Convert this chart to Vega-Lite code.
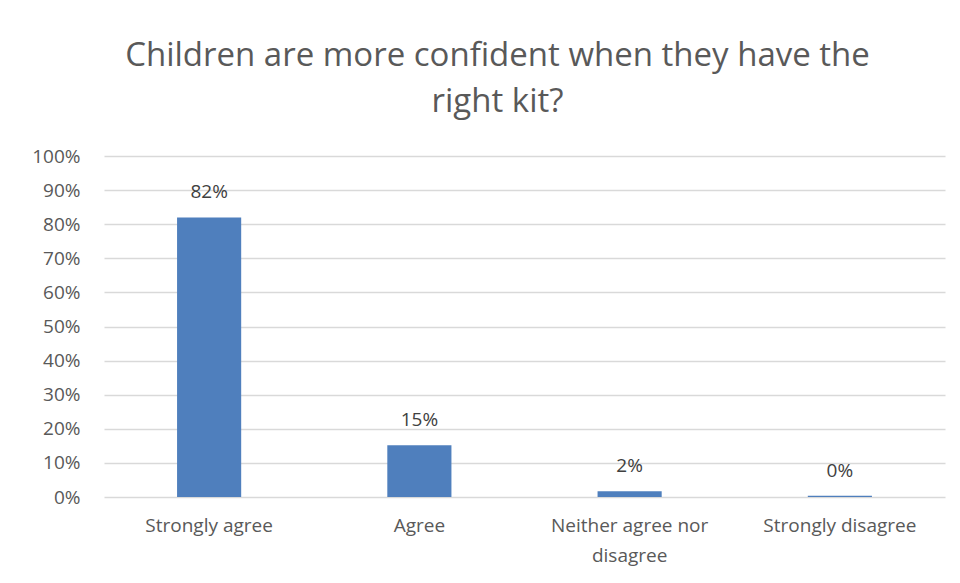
{
  "$schema": "https://vega.github.io/schema/vega-lite/v6.json",
  "autosize": {"type": "none"},
  "width": 841,
  "height": 341,
  "padding": {"left": 104, "top": 156, "right": 15, "bottom": 86},
  "background": "white",
  "title": {
    "text": ["Children are more confident when they have the", "right kit?"],
    "fontSize": 33,
    "fontWeight": "normal",
    "font": "Open Sans",
    "color": "#595959",
    "lineHeight": 46,
    "anchor": "middle",
    "dx": -27,
    "offset": 28
  },
  "data": {
    "values": [
      {"response": "Strongly agree", "share": 0.82},
      {"response": "Agree", "share": 0.152},
      {"response": "Neither agree nor disagree", "share": 0.017},
      {"response": "Strongly disagree", "share": 0.004}
    ]
  },
  "encoding": {
    "x": {
      "field": "response",
      "type": "nominal",
      "sort": null,
      "scale": {"paddingInner": 0, "paddingOuter": 0},
      "axis": {
        "title": null,
        "labelAngle": 0,
        "ticks": false,
        "domain": false,
        "labelPadding": 19,
        "labelFont": "Open Sans",
        "labelFontSize": 19,
        "labelColor": "#595959",
        "labelLineHeight": 30,
        "labelExpr": "datum.label == 'Neither agree nor disagree' ? ['Neither agree nor', 'disagree'] : datum.label"
      }
    },
    "y": {
      "field": "share",
      "type": "quantitative",
      "scale": {"domain": [0, 1]},
      "axis": {
        "title": null,
        "format": ".0%",
        "values": [0, 0.1, 0.2, 0.3, 0.4, 0.5, 0.6, 0.7, 0.8, 0.9, 1],
        "ticks": false,
        "domain": false,
        "labelPadding": 24,
        "labelFont": "Open Sans",
        "labelFontSize": 19,
        "labelColor": "#595959",
        "gridColor": "#d9d9d9",
        "gridWidth": 1.3
      }
    }
  },
  "layer": [
    {
      "mark": {"type": "bar", "color": "#4f7fbd", "width": {"band": 0.305}}
    },
    {
      "mark": {
        "type": "text",
        "baseline": "bottom",
        "dy": -15,
        "font": "Open Sans",
        "fontSize": 19,
        "color": "#404040"
      },
      "encoding": {
        "text": {"field": "share", "type": "quantitative", "format": ".0%"}
      }
    }
  ],
  "config": {"view": {"stroke": null}}
}
